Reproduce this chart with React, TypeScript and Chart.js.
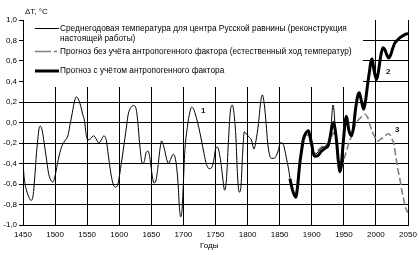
import React, { useEffect, useRef } from "react";
import { Chart, registerables } from "chart.js";

Chart.register(...registerables);

// Series 1: reconstruction (thin black)
const reconYears = [
  1450, 1452, 1455, 1460, 1463, 1466, 1468, 1471, 1473, 1475, 1477, 1480, 1483, 1486, 1490, 1494, 1497, 1500,
  1505, 1510, 1515, 1520, 1523, 1527, 1530, 1533, 1536, 1540, 1543, 1546, 1548, 1551, 1555, 1560, 1564, 1568,
  1572, 1576, 1580, 1583, 1587, 1591, 1595, 1598, 1602, 1606, 1610, 1614, 1618, 1622, 1626, 1629, 1632, 1636,
  1639, 1642, 1645, 1648, 1651, 1654, 1657, 1660, 1663, 1666, 1670, 1674, 1677, 1680, 1684, 1687, 1690, 1692,
  1694, 1696, 1698, 1700, 1702, 1706, 1710, 1713, 1716, 1720, 1724, 1728, 1732, 1736, 1740, 1744, 1747, 1750,
  1753, 1756, 1759, 1762, 1764, 1767, 1770, 1773, 1776, 1779, 1782, 1784, 1787, 1790, 1792, 1795, 1798, 1802,
  1806, 1810, 1813, 1817, 1820, 1823, 1826, 1829, 1831, 1834, 1837, 1841, 1845, 1848, 1851, 1854, 1857, 1860,
  1864, 1868, 1872, 1875, 1877, 1880, 1884, 1888, 1892, 1895, 1898, 1901, 1904, 1908, 1913, 1918, 1923, 1927,
  1930, 1933, 1935, 1937, 1940, 1943, 1945, 1947, 1950, 1953, 1955, 1958, 1961,
];
const reconValues = [
  -0.4, -0.55, -0.65, -0.74, -0.76, -0.7, -0.56, -0.3, -0.17, -0.06, -0.035, -0.08, -0.2, -0.33, -0.5, -0.57, -0.58, -0.52,
  -0.36, -0.24, -0.18, -0.13, -0.03, 0.1, 0.2, 0.25, 0.23, 0.16, 0.08, 0.01, -0.1, -0.17, -0.16, -0.13, -0.16, -0.2,
  -0.17, -0.13, -0.18, -0.32, -0.5, -0.61, -0.63, -0.6, -0.45, -0.28, -0.1, 0.08, 0.145, 0.165, 0.14, 0.0, -0.22, -0.4,
  -0.38, -0.29, -0.28, -0.36, -0.5, -0.59, -0.57, -0.45, -0.28, -0.18, -0.25, -0.36, -0.4, -0.36, -0.31, -0.34, -0.47, -0.63,
  -0.85, -0.92, -0.84, -0.58, -0.3, -0.05, 0.1, 0.15, 0.13, 0.05, -0.05, -0.17, -0.3, -0.41, -0.45, -0.44, -0.38, -0.26,
  -0.24, -0.3, -0.42, -0.58, -0.66, -0.56, -0.2, 0.1, 0.17, 0.08, -0.17, -0.48, -0.68, -0.6, -0.33, -0.09, -0.11, -0.14,
  -0.17, -0.26, -0.18, -0.01, 0.18, 0.27, 0.18, -0.02, -0.18, -0.31, -0.35, -0.35, -0.32, -0.27, -0.2, -0.2, -0.24, -0.33,
  -0.46, -0.62, -0.69, -0.71, -0.65, -0.48, -0.3, -0.14, -0.09, -0.1, -0.15, -0.26, -0.31, -0.3, -0.26, -0.24, -0.22, -0.18,
  -0.05, 0.17, 0.1, -0.12, -0.3, -0.46, -0.47, -0.32, -0.08, 0.05, 0.02, -0.08, -0.12,
];

// Series 2: forecast with anthropogenic factor (thick black)
const anthroYears = [
  1866, 1870, 1873, 1875, 1878, 1881, 1884, 1887, 1891, 1895, 1897, 1900, 1902, 1905, 1910, 1915, 1921, 1926,
  1929, 1932, 1934, 1936, 1939, 1941, 1944, 1946, 1949, 1952, 1954, 1958, 1962, 1965, 1968, 1972, 1974, 1977,
  1981, 1984, 1987, 1990, 1992, 1994, 1996, 1998, 2001, 2004, 2007, 2011, 2014, 2017, 2020, 2023, 2026, 2029,
  2033, 2038, 2043, 2050,
];
const anthroValues = [
  -0.55, -0.66, -0.71, -0.73, -0.62, -0.42, -0.28, -0.16, -0.1, -0.08, -0.13, -0.21, -0.29, -0.33, -0.32, -0.28, -0.25, -0.22,
  -0.13, -0.02, 0.0, -0.05, -0.2, -0.35, -0.48, -0.42, -0.2, 0.0, 0.06, -0.08, -0.13, -0.05, 0.12, 0.27, 0.29, 0.22,
  0.13, 0.22, 0.37, 0.5, 0.59, 0.62, 0.55, 0.48, 0.42, 0.5, 0.63, 0.73, 0.71, 0.66, 0.63, 0.66, 0.72, 0.77,
  0.8, 0.83, 0.85, 0.87,
];

// Series 3: natural forecast (grey dashed)
const naturalYears = [
  1880, 1884, 1888, 1892, 1896, 1900, 1904, 1910, 1915, 1920, 1925, 1930, 1934, 1937, 1940, 1943, 1946, 1950,
  1954, 1959, 1964, 1968, 1972, 1977, 1983, 1987, 1991, 1995, 2000, 2003, 2008, 2013, 2019, 2022, 2025, 2028,
  2031, 2034, 2037, 2040, 2043, 2046, 2050,
];
const naturalValues = [
  -0.45, -0.3, -0.17, -0.12, -0.15, -0.25, -0.3, -0.27, -0.24, -0.22, -0.2, -0.15, -0.1, -0.15, -0.3, -0.42, -0.44, -0.36,
  -0.28, -0.18, -0.1, -0.02, 0.02, 0.05, 0.08, 0.05, -0.03, -0.1, -0.16, -0.18, -0.16, -0.14, -0.11, -0.12, -0.16, -0.21,
  -0.33, -0.45, -0.54, -0.65, -0.74, -0.83, -0.88,
];

const legendLabels = [
  "Среднегодовая температура для центра Русской равнины (реконструкция",
  "настоящей работы)",
  "Прогноз без учёта антропогенного фактора (естественный ход температур)",
  "Прогноз с учётом антропогенного фактора",
];
const yTitle = "ΔT, °C";
const xTitle = "Годы";
const curveMarks = ["1", "2", "3"];

const FONT = "'Liberation Sans', Arial, sans-serif";

const toPoints = (xs: number[], ys: number[]) => xs.map((x, i) => ({ x, y: ys[i] }));

const overlayPlugin = {
  id: "overlay",
  beforeDatasetsDraw(chart: any) {
    const { ctx, chartArea } = chart;
    ctx.save();
    ctx.fillStyle = "#ffffff";
    ctx.fillRect(chartArea.left + 1, chartArea.top - 1, 363 - chartArea.left - 1, 87 - chartArea.top + 1);
    ctx.restore();
  },
  afterDatasetsDraw(chart: any) {
    const { ctx } = chart;
    ctx.save();
    ctx.font = `8.3px ${FONT}`;
    ctx.fillStyle = "#000";
    ctx.textBaseline = "middle";
    ctx.textAlign = "left";
    ctx.strokeStyle = "#000";
    ctx.lineWidth = 1;
    ctx.beginPath();
    ctx.moveTo(35, 28.5);
    ctx.lineTo(59, 28.5);
    ctx.stroke();
    ctx.strokeStyle = "#808080";
    ctx.lineWidth = 1.5;
    ctx.setLineDash([16, 3, 3, 3]);
    ctx.beginPath();
    ctx.moveTo(35, 51.5);
    ctx.lineTo(59, 51.5);
    ctx.stroke();
    ctx.setLineDash([]);
    ctx.strokeStyle = "#000";
    ctx.lineWidth = 3;
    ctx.beginPath();
    ctx.moveTo(35, 71);
    ctx.lineTo(59, 71);
    ctx.stroke();
    ctx.fillText(legendLabels[0], 60, 28.5);
    ctx.fillText(legendLabels[1], 60, 39);
    ctx.fillText(legendLabels[2], 60, 51.5);
    ctx.fillText(legendLabels[3], 60, 71);
    ctx.font = `8px ${FONT}`;
    ctx.fillText(yTitle, 25, 12);
    ctx.fillText(xTitle, 200, 246);
    ctx.font = `bold 8px ${FONT}`;
    ctx.fillStyle = "#10104a";
    ctx.fillText(curveMarks[0], 201, 111);
    ctx.fillText(curveMarks[1], 386, 71.5);
    ctx.fillText(curveMarks[2], 395, 130);
    ctx.restore();
  },
};

export default function App() {
  const ref = useRef<HTMLCanvasElement | null>(null);
  useEffect(() => {
    if (!ref.current) return;
    const chart = new Chart(ref.current, {
      type: "line",
      data: {
        datasets: [
          {
            label: legendLabels[0],
            data: toPoints(reconYears, reconValues),
            borderColor: "#000",
            borderWidth: 1,
            pointRadius: 0,
            cubicInterpolationMode: "monotone",
            order: 0,
          },
          {
            label: legendLabels[3],
            data: toPoints(anthroYears, anthroValues),
            borderColor: "#000",
            borderWidth: 3,
            pointRadius: 0,
            cubicInterpolationMode: "monotone",
            order: 1,
          },
          {
            label: legendLabels[2],
            data: toPoints(naturalYears, naturalValues),
            borderColor: "#808080",
            borderWidth: 1.6,
            borderDash: [7, 3],
            pointRadius: 0,
            cubicInterpolationMode: "monotone",
            order: 2,
          },
        ],
      },
      options: {
        responsive: false,
        animation: false,
        layout: { padding: { left: 0, right: 11, top: 20, bottom: 0 } },
        plugins: { legend: { display: false }, tooltip: { enabled: false } },
        scales: {
          x: {
            type: "linear",
            min: 1450,
            max: 2050,
            afterFit: (s: any) => {
              s.height = 30;
              s.paddingLeft = 0;
              s.paddingRight = 0;
            },
            ticks: {
              stepSize: 50,
              autoSkip: false,
              maxRotation: 0,
              padding: 5,
              color: "#000",
              font: { family: FONT, size: 8 },
              callback: (v: any) => String(v),
            },
            grid: { display: true, drawOnChartArea: true, color: "#000", lineWidth: 1, drawTicks: false },
            border: { display: true, color: "#000", width: 1 },
          },
          y: {
            type: "linear",
            min: -1,
            max: 1,
            afterFit: (s: any) => {
              s.width = 23;
              s.paddingTop = 0;
              s.paddingBottom = 0;
            },
            ticks: {
              stepSize: 0.2,
              padding: 2,
              color: "#000",
              font: { family: FONT, size: 8 },
              callback: (v: any) => Number(v).toFixed(1).replace(".", ","),
            },
            grid: {
              color: (c: any) => (c.tick && Math.abs(c.tick.value - 1) < 1e-6 ? "rgba(0,0,0,0)" : "#000"),
              tickColor: "#000",
              tickLength: 4,
              lineWidth: 1,
            },
            border: { color: "#000", width: 1 },
          },
        },
      },
      plugins: [overlayPlugin],
    });
    return () => chart.destroy();
  }, []);
  return (
    <div style={{ position: "absolute", left: 0, top: 0, width: 419, height: 255, background: "#fff" }}>
      <canvas ref={ref} width={419} height={255} />
    </div>
  );
}
